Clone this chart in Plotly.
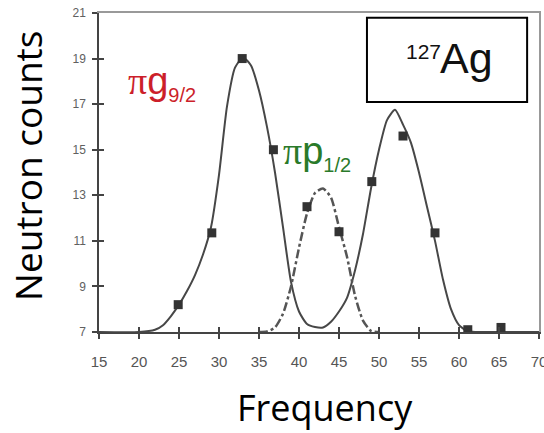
import plotly.graph_objects as go

# ---- data ----
tick_x = [15, 20, 25, 30, 35, 40, 45, 50, 55, 60, 65, 70]
tick_y = [7, 9, 11, 13, 15, 17, 19, 21]

# measured points (squares)
pts_x = [24.9, 29.1, 32.9, 36.8, 41.0, 45.0, 49.1, 53.0, 57.0, 61.1, 65.25]
pts_y = [8.2, 11.35, 19.0, 15.0, 12.5, 11.4, 13.6, 15.6, 11.35, 7.1, 7.2]

# solid fit curve (g9/2 + third peak)
fit_x = [15, 20, 22, 23, 24, 25, 26, 27, 28, 29, 30, 31, 32, 33, 34, 35, 36, 37, 38, 39,
         40, 41, 42, 43, 44, 45, 46, 47, 48, 49, 50, 51, 52, 53, 54, 55, 56, 57, 58, 59,
         60, 61, 62, 65, 70]
fit_y = [7.0, 7.0, 7.1, 7.3, 7.7, 8.2, 8.8, 9.5, 10.4, 11.6, 13.9, 16.9, 18.6, 19.05, 18.7,
         17.6, 16.0, 14.0, 11.6, 9.2, 7.9, 7.35, 7.22, 7.2, 7.45, 7.9, 8.5, 9.7, 11.3, 13.3,
         15.0, 16.3, 16.75, 16.1, 15.3, 14.0, 12.5, 11.0, 9.3, 8.0, 7.3, 7.05, 7.0, 7.0, 7.0]

# dash-dot fit curve (p1/2 peak)
p_x = [35, 36, 37, 38, 39, 40, 41, 42, 43, 44, 45, 46, 47, 48, 49, 50]
p_y = [7.0, 7.02, 7.2, 7.8, 9.0, 10.7, 12.2, 13.1, 13.3, 12.9, 11.6, 10.3, 8.6, 7.5, 7.05, 7.0]

fig = go.Figure()
fig.add_trace(go.Scatter(x=fit_x, y=fit_y, mode="lines",
                         line=dict(color="#474747", width=2, shape="spline", smoothing=0.6),
                         hoverinfo="skip", showlegend=False))
fig.add_trace(go.Scatter(x=p_x, y=p_y, mode="lines",
                         line=dict(color="#555555", width=2.5, dash="dashdot", shape="spline", smoothing=0.6),
                         hoverinfo="skip", showlegend=False))
fig.add_trace(go.Scatter(x=pts_x, y=pts_y, mode="markers",
                         marker=dict(symbol="square", size=9, color="#333333"), showlegend=False))
# empty traces so that the overlay axes (inner ticks, top/right frame) get drawn
fig.add_trace(go.Scatter(x=[], y=[], xaxis="x2", yaxis="y2", showlegend=False))
fig.add_trace(go.Scatter(x=[], y=[], xaxis="x3", yaxis="y3", showlegend=False))

tickfont_x = dict(family="Liberation Sans Narrow, Liberation Sans, Arial", size=15, color="#555555")
tickfont_y = dict(family="Liberation Sans, Arial", size=12, color="#606060")
xr = [15, 70]
yr = [7, 21]

fig.update_layout(
    width=544, height=433,
    margin=dict(l=99, r=5, t=13, b=101, autoexpand=False),
    paper_bgcolor="white", plot_bgcolor="white",
    showlegend=False,
    xaxis=dict(range=xr, tickvals=tick_x, ticks="outside", ticklen=5, tickcolor="#444", tickwidth=1.5,
               showline=True, linecolor="#444", linewidth=1.5, showgrid=False, zeroline=False,
               tickfont=tickfont_x, ticklabelstandoff=10, ticklabeloverflow="allow",
               automargin=False, fixedrange=True),
    xaxis2=dict(range=xr, overlaying="x", side="bottom", anchor="y2", tickvals=tick_x, ticks="inside",
                ticklen=5, tickcolor="#444", tickwidth=1.5, showticklabels=False, showline=False,
                showgrid=False, zeroline=False, automargin=False),
    xaxis3=dict(range=xr, overlaying="x", side="top", anchor="y3", ticks="", showticklabels=False,
                showline=True, linecolor="#999", linewidth=1.5, showgrid=False, zeroline=False,
                automargin=False),
    yaxis=dict(range=yr, tickvals=tick_y, ticks="outside", ticklen=5, tickcolor="#444", tickwidth=1.5,
               showline=True, linecolor="#444", linewidth=1.5, showgrid=False, zeroline=False,
               tickfont=tickfont_y, ticklabelstandoff=4, automargin=False, fixedrange=True),
    yaxis2=dict(range=yr, overlaying="y", side="left", anchor="x2", tickvals=tick_y, ticks="inside",
                ticklen=5, tickcolor="#444", tickwidth=1.5, showticklabels=False, showline=False,
                showgrid=False, zeroline=False, automargin=False),
    yaxis3=dict(range=yr, overlaying="y", side="right", anchor="x3", ticks="", showticklabels=False,
                showline=True, linecolor="#999", linewidth=1.5, showgrid=False, zeroline=False,
                automargin=False),
)

# label box
fig.add_shape(type="rect", xref="paper", yref="paper", x0=0.609, x1=0.973, y0=0.721, y1=0.985,
              line=dict(color="black", width=2), fillcolor="white")

annots = [
    dict(text="Ag", x=0.836, y=0.86, font=dict(family="Liberation Sans Narrow, Liberation Sans, Arial", size=43, color="#111")),
    dict(text="127", x=0.738, y=0.88, font=dict(family="Liberation Sans Narrow, Liberation Sans, Arial", size=21, color="#111")),
    dict(text="<span style='font-family:Liberation Serif'>π</span>g<sub><span style='font-size:20px'>9/2</span></sub>",
         x=0.062, y=0.78, xanchor="left", font=dict(family="Liberation Sans, Arial", size=38, color="#cc1f2a")),
    dict(text="<span style='font-family:Liberation Serif'>π</span>p<sub><span style='font-size:20px'>1/2</span></sub>",
         x=0.414, y=0.56, xanchor="left", font=dict(family="Liberation Sans, Arial", size=38, color="#2a7a2a")),
    dict(text="Frequency", x=0.514, y=-0.238, font=dict(family="Open Sans", size=36, color="black")),
    dict(text="Neutron counts", x=-0.164, y=0.52, textangle=-90, font=dict(family="Open Sans", size=37, color="black")),
]
for a in annots:
    base = dict(xref="paper", yref="paper", showarrow=False, xanchor="center", yanchor="middle")
    base.update(a)
    fig.add_annotation(**base)

fig.write_html("out.html")
